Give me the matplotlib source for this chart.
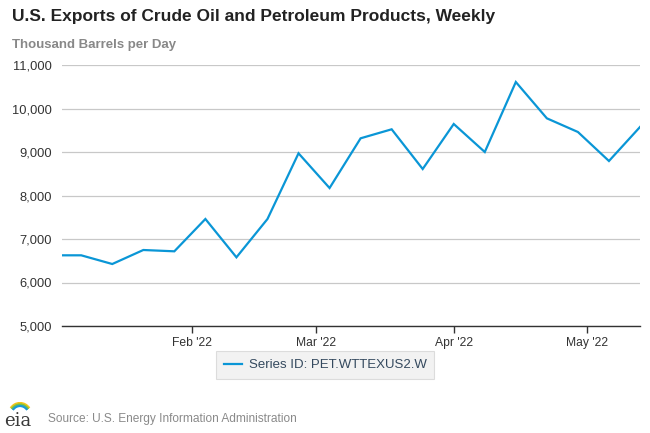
import matplotlib
matplotlib.use("Agg")
import matplotlib.pyplot as plt
from matplotlib.patches import Arc
from datetime import datetime

plt.rcParams['font.family'] = ['Liberation Sans', 'DejaVu Sans']

# weekly data (Fridays), thousand barrels per day
dates = ["2021-12-31", "2022-01-07", "2022-01-14", "2022-01-21", "2022-01-28",
         "2022-02-04", "2022-02-11", "2022-02-18", "2022-02-25", "2022-03-04",
         "2022-03-11", "2022-03-18", "2022-03-25", "2022-04-01", "2022-04-08",
         "2022-04-15", "2022-04-22", "2022-04-29", "2022-05-06", "2022-05-13"]
exports = [6625, 6625, 6425, 6747, 6717, 7460, 6579, 7460, 8970, 8172,
           9315, 9522, 8609, 9644, 9000, 10609, 9774, 9460, 8793, 9575]
tick_dates = ["2022-02-01", "2022-03-01", "2022-04-01", "2022-05-01"]
tick_labels = ["Feb '22", "Mar '22", "Apr '22", "May '22"]
y_ticks = [5000, 6000, 7000, 8000, 9000, 10000, 11000]

x = [datetime.strptime(d, "%Y-%m-%d") for d in dates]
xt = [datetime.strptime(d, "%Y-%m-%d") for d in tick_dates]

fig = plt.figure(figsize=(6.5, 4.33), dpi=100)
ax = fig.add_axes([62/650, 1 - 326/433, 578/650, 261/433])

line, = ax.plot(x, exports, color='#0a96d6', lw=1.6, solid_joinstyle='miter',
                label='Series ID: PET.WTTEXUS2.W')

ax.set_xlim(datetime(2022, 1, 2, 16), datetime(2022, 5, 13))
ax.set_ylim(5000, 11000)
ax.set_yticks(y_ticks)
ax.set_yticklabels([f"{v:,}" for v in y_ticks])
ax.set_xticks(xt)
ax.set_xticklabels(tick_labels)

ax.grid(axis='y', color='#c8c8c8', lw=0.9)
ax.set_axisbelow(True)
for s in ['top', 'right', 'left']:
    ax.spines[s].set_visible(False)
ax.spines['bottom'].set_color('#333333')
ax.spines['bottom'].set_linewidth(1.0)
ax.tick_params(axis='y', length=0, pad=7, labelsize=9.3, labelcolor='#333333')
ax.tick_params(axis='x', length=5, width=1, color='#333333', pad=3,
               labelsize=8.7, labelcolor='#333333')

fig.text(12/650, 1 - 17/433, "U.S. Exports of Crude Oil and Petroleum Products, Weekly",
         fontsize=12.5, fontweight='bold', color='#222222', va='center')
fig.text(12/650, 1 - 45/433, "Thousand Barrels per Day",
         fontsize=9.5, fontweight='bold', color='#888888', va='center')

leg = fig.legend(handles=[line], loc='center', bbox_to_anchor=(325/650, 1 - 365/433),
                 frameon=True, fancybox=False, fontsize=9.5, handlelength=1.4,
                 handletextpad=0.5, borderpad=0.6)
leg.get_frame().set_facecolor('#efefef')
leg.get_frame().set_edgecolor('#d6d6d6')
leg.get_frame().set_linewidth(0.8)
for t in leg.get_texts():
    t.set_color('#34495e')

fig.text(48/650, 1 - 419/433, "Source: U.S. Energy Information Administration",
         fontsize=8.6, color='#8a8a8a', va='center')

# eia logo
fig.text(4/650, 1 - 421/433, "eia", fontsize=13, family='DejaVu Serif',
         color='#3a3a3a', va='center')
lax = fig.add_axes([5/650, 1 - 418/433, 26/650, 16/433])
lax.set_xlim(0, 26)
lax.set_ylim(0, 16)
lax.axis('off')
for r, c in [(13, '#f5c518'), (11.5, '#7cc142'), (10, '#1a9ad6')]:
    lax.add_patch(Arc((15, 2), 2 * r * 0.9, 2 * r, theta1=40, theta2=140, color=c, lw=1.6))

fig.savefig("out.png", dpi=100)
